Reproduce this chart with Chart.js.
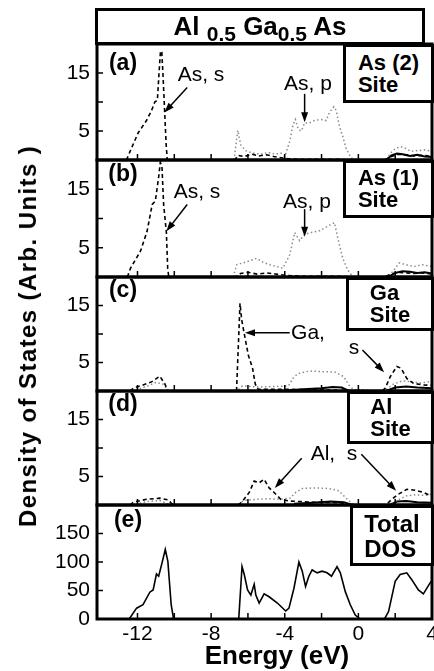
<!DOCTYPE html>
<html>
<head>
<meta charset="utf-8">
<script src="https://cdn.jsdelivr.net/npm/chart.js@4.4.0/dist/chart.umd.min.js"></script>
<style>
  body { margin: 0; background: #fff; }
  #fig { position: relative; width: 434px; height: 671px; overflow: hidden;
         font-family: "Liberation Sans", Arial, sans-serif; color: #000; }
  canvas { position: absolute; left: 0; }
  .t { position: absolute; transform: translate(-50%, -50%); white-space: nowrap; line-height: 1; }
  .lbl { font-size: 21px; }
  .pl { font-size: 23px; font-weight: bold; }
  .box { position: absolute; box-sizing: border-box; border: 3px solid #000; background: #fff;
         display: flex; flex-direction: column; justify-content: center; align-items: center;
         font-weight: bold; font-size: 22px; line-height: 22px; }
  #title { position: absolute; left: 95px; top: 8px; width: 330px; height: 37px; box-sizing: border-box;
           border: 3px solid #000; text-align: center; font-weight: bold; font-size: 26px; line-height: 30px; }
  #title span { font-size: 21px; position: relative; top: 6px; }
</style>
</head>
<body>
<div id="fig">
  <canvas id="pa" width="434" height="124" style="top:40px"></canvas>
  <canvas id="pb" width="434" height="125" style="top:156px"></canvas>
  <canvas id="pc" width="434" height="122" style="top:273px"></canvas>
  <canvas id="pd" width="434" height="122" style="top:387px"></canvas>
  <canvas id="pe" width="434" height="170" style="top:501px"></canvas>

  <div id="title">Al <span>0.5</span> Ga<span>0.5</span> As</div>

  <div class="box" style="left:343px;top:44px;width:91px;height:59px">As (2)<br>Site</div>
  <div class="box" style="left:343px;top:160px;width:91px;height:58px">As (1)<br>Site</div>
  <div class="box" style="left:346px;top:277px;width:88px;height:54px">Ga<br>Site</div>
  <div class="box" style="left:347px;top:391px;width:87px;height:53px">Al<br>Site</div>
  <div class="box" style="left:350px;top:505px;width:84px;height:61px;font-size:24px;line-height:25px">Total<br>DOS</div>

  <div class="t pl" style="left:123px;top:62px">(a)</div>
  <div class="t pl" style="left:123px;top:173px">(b)</div>
  <div class="t pl" style="left:123px;top:289px">(c)</div>
  <div class="t pl" style="left:123px;top:403px">(d)</div>
  <div class="t pl" style="left:128px;top:519px">(e)</div>

  <div class="t lbl" style="left:201px;top:73px">As, s</div>
  <div class="t lbl" style="left:308px;top:82px">As, p</div>
  <div class="t lbl" style="left:197px;top:190px">As, s</div>
  <div class="t lbl" style="left:307px;top:200px">As, p</div>
  <div class="t lbl" style="left:308px;top:331px">Ga,</div>
  <div class="t lbl" style="left:354px;top:346px">s</div>
  <div class="t lbl" style="left:334px;top:452px">Al,&nbsp;&nbsp;s</div>

  <div class="t" style="left:28px;top:336px;transform:translate(-50%,-50%) rotate(-90deg);font-weight:bold;font-size:24px;letter-spacing:1.4px">Density of States (Arb. Units )</div>
  <div class="t" style="left:277px;top:655px;font-weight:bold;font-size:26px">Energy (eV)</div>
</div>

<script>
// energy axis (eV)
const xMin = -14.2, xMax = 4;
const xTickMarks = [-12, -10, -8, -6, -4, -2, 0, 2];

// (a) As(2) site
const sA_E = [-12.6, -12.32, -11.96, -11.51, -11.24, -11.06, -10.92, -10.83, -10.75, -10.68, -10.61, -10.52, -10.44, -10.38,
  -6.7, -6.55, -6.2, -5.8, -5.4, -5.0, -4.6, -4.2, -3.8, -3.0, -2.0, -1.0, -0.4, 1.4, 1.8, 2.2, 2.6, 3.0, 3.5, 4.0];
const sA_V = [0, 2.1, 4.7, 6.8, 8.5, 10, 10.3, 15, 18.8, 18.6, 14.4, 8.0, 2.5, 0,
  0, 0.8, 0.6, 1.0, 0.7, 0.9, 0.6, 0.4, 0.2, 0.1, 0.1, 0.1, 0, 0, 0.6, 1.0, 0.9, 0.7, 0.8, 0.6];
const pA_E = [-6.75, -6.62, -6.55, -6.39, -6.12, -5.76, -5.31, -4.9, -4.5, -4.2, -4.0, -3.73, -3.55, -3.42, -3.27, -3.1,
  -2.92, -2.65, -2.38, -2.02, -1.75, -1.57, -1.33, -1.2, -1.03, -0.85, -0.67, -0.4, -0.2,
  1.5, 1.75, 2.02, 2.31, 2.58, 2.85, 3.21, 3.57, 4.0];
const pA_V = [0, 3.5, 5.1, 2.6, 1.6, 1.2, 1.0, 1.3, 1.0, 1.2, 0.6, 3.2, 6.1, 7.0, 5.3, 5.0,
  6.4, 6.4, 6.8, 7.0, 6.8, 8.2, 9.2, 8.5, 5.8, 4.1, 2.0, 0.4, 0,
  0, 1.2, 2.0, 2.3, 2.0, 1.5, 1.6, 1.75, 1.5];
const dA_E = [1.5, 1.8, 2.1, 2.4, 2.8, 3.2, 3.6, 4.0];
const dA_V = [0, 0.8, 1.1, 1.0, 0.7, 0.9, 0.6, 0.5];

// (b) As(1) site
const sB_E = [-12.55, -12.38, -11.84, -11.48, -11.2, -11.03, -10.85, -10.76, -10.67, -10.58, -10.43, -10.36, -10.3,
  -6.7, -6.4, -6.0, -5.5, -5.0, -4.5, -4.0, -3.0, -2.0, -1.0, -0.4, 1.4, 1.8, 2.2, 2.6, 3.0, 3.5, 4.0];
const sB_V = [0, 1.5, 4.4, 7.8, 12.4, 13.0, 17.1, 19.6, 18.8, 12.4, 7.6, 1.5, 0,
  0, 0.6, 0.8, 0.5, 0.7, 0.5, 0.3, 0.1, 0.1, 0.1, 0, 0, 0.5, 0.8, 0.7, 0.6, 0.7, 0.5];
const pB_E = [-6.8, -6.61, -6.07, -5.53, -5.17, -4.81, -4.45, -4.1, -3.73, -3.46,
  -3.19, -2.92, -2.56, -2.11, -1.66, -1.3, -1.12, -0.85, -0.58, -0.3, 1.5, 1.86, 2.22, 2.58, 3.03, 3.48, 4.0];
const pB_V = [0, 2.1, 2.6, 3.2, 2.5, 2.1, 1.8, 1.5, 3.8, 7.6,
  6.2, 7.3, 7.6, 7.9, 8.7, 9.3, 6.7, 3.2, 1.2, 0, 0, 0.9, 2.4, 2.1, 1.8, 2.1, 1.8];
const dB_E = [1.6, 2.0, 2.4, 2.8, 3.2, 3.6, 4.0];
const dB_V = [0, 0.7, 1.0, 0.9, 0.7, 0.8, 0.6];

// (c) Ga site
const sC_E = [-12.4, -12.23, -11.7, -11.24, -10.79, -10.52, -10.34, -6.62, -6.52, -6.43, -6.34, -6.22, -5.98, -5.75, -5.6, -5.45,
  -4.0, -2.0, -0.5, 1.3, 1.46, 1.73, 2.09, 2.32, 2.63, 2.99, 3.53, 4.0];
const sC_V = [0, 0.5, 1.05, 1.6, 2.6, 1.3, 0, 0, 8, 15.4, 12.5, 10.4, 6.3, 4.0, 1.2, 0.3,
  0.3, 0.2, 0.1, 0, 0.5, 2.5, 4.3, 4.0, 2.2, 1.35, 1.05, 1.0];
const pC_E = [-12.3, -11.5, -11.0, -10.6, -10.3, -6.6, -6.3, -5.5, -4.5, -3.8, -3.5, -3.22, -2.68, -1.96, -1.24, -0.79, -0.52, -0.25,
  1.4, 1.9, 2.4, 2.9, 3.4, 4.0];
const pC_V = [0, 0.8, 1.5, 1.2, 0, 0, 0.9, 0.7, 0.8, 0.9, 2.5, 3.1, 3.5, 3.4, 3.3, 2.5, 1.05, 0.2,
  0, 1.2, 1.8, 1.6, 1.4, 1.7];
const dC_E = [-4, -3, -2, -1.4, -0.9, -0.5, 1.5, 2.0, 2.6, 3.2, 4.0];
const dC_V = [0.1, 0.3, 0.5, 0.7, 0.6, 0, 0, 0.6, 0.8, 0.6, 0.5];

// (d) Al site
const sD_E = [-12.4, -12.23, -11.51, -10.79, -10.34, -10.07, -6.5, -6.29, -5.93, -5.66, -5.39, -5.12, -4.85, -4.58, -4.22, -3.77,
  -2.5, -1.0, -0.4, 1.5, 1.82, 2.18, 2.63, 3.08, 3.53, 4.0];
const sD_V = [0, 0.5, 1.0, 1.2, 0.9, 0, 0, 0.7, 2.2, 4.2, 3.9, 4.5, 3.0, 2.2, 1.0, 0.7,
  0.5, 0.4, 0, 0, 1.0, 1.9, 2.75, 2.6, 2.2, 1.5];
const pD_E = [-12.3, -11.5, -10.8, -10.2, -6.6, -6.2, -5.5, -4.8, -4.2, -3.7, -3.41, -3.05, -2.32, -1.6, -1.06, -0.7, -0.34, -0.1,
  1.6, 2.1, 2.6, 3.1, 3.6, 4.0];
const pD_V = [0, 0.6, 0.8, 0, 0, 0.8, 1.0, 1.1, 1.0, 1.2, 2.2, 2.9, 3.0, 2.9, 2.5, 1.3, 0.3, 0,
  0, 0.8, 1.6, 1.8, 1.7, 1.9];
const dD_E = [-3.5, -2.5, -1.5, -0.8, -0.3, 1.7, 2.1, 2.6, 3.2, 4.0];
const dD_V = [0.2, 0.4, 0.6, 0.5, 0, 0, 0.6, 0.7, 0.5, 0.4];

// (e) total DOS
const tot_E = [-12.45, -12.05, -11.7, -11.33, -11.15, -10.97, -10.85, -10.67, -10.49, -10.35, -10.17, -10.04,
  -6.5, -6.32, -6.2, -6.02, -5.84, -5.66, -5.57, -5.39, -5.12, -4.85, -4.4, -3.95, -3.77, -3.5, -3.23, -3.05,
  -2.87, -2.69, -2.51, -2.24, -1.97, -1.7, -1.46, -1.16, -0.98, -0.71, -0.44, -0.17, 0.1,
  1.42, 1.64, 2.0, 2.27, 2.63, 2.9, 3.26, 3.53, 3.89, 4.0];
const tot_V = [0, 19, 25, 47, 51, 79, 75, 98, 122, 101, 25, 0,
  0, 92, 78, 51, 42, 61, 42, 28, 44, 39, 28, 14, 19, 54, 100, 84,
  57, 75, 86, 81, 84, 81, 75, 92, 81, 48, 25, 7, 0,
  0, 13, 66, 78, 81, 69, 51, 44, 63, 68];

Chart.defaults.font.family = '"Liberation Sans", Arial, sans-serif';
Chart.defaults.font.size = 21;
Chart.defaults.color = '#000';

const pts = (E, V) => E.map((x, i) => ({ x: x, y: V[i] }));
const sLine = (E, V) => ({ data: pts(E, V), borderColor: '#000', borderWidth: 1.6, borderDash: [4, 3] });
const pLine = (E, V) => ({ data: pts(E, V), borderColor: '#8c8c8c', borderWidth: 1.5, borderDash: [1.5, 2.5] });
const dLine = (E, V) => ({ data: pts(E, V), borderColor: '#000', borderWidth: 2 });

// frame, inward ticks and annotation arrows
const framePlugin = {
  id: 'frame',
  afterDatasetsDraw(chart, args, o) {
    const { ctx, chartArea: a, scales: { x, y } } = chart;
    ctx.save();
    ctx.strokeStyle = '#000';
    ctx.fillStyle = '#000';
    ctx.lineWidth = 1.5;
    ctx.beginPath();
    xTickMarks.forEach(v => {
      const px = x.getPixelForValue(v);
      ctx.moveTo(px, a.bottom); ctx.lineTo(px, a.bottom - 6);
    });
    o.yTicks.forEach(v => {
      const py = y.getPixelForValue(v);
      ctx.moveTo(a.left, py); ctx.lineTo(a.left + 6, py);
    });
    ctx.stroke();
    (o.arrows || []).forEach(([x1, y1, x2, y2]) => {
      const X1 = x.getPixelForValue(x1), Y1 = y.getPixelForValue(y1);
      const X2 = x.getPixelForValue(x2), Y2 = y.getPixelForValue(y2);
      const ang = Math.atan2(Y2 - Y1, X2 - X1);
      const c = Math.cos(ang), s = Math.sin(ang);
      ctx.lineWidth = 1.5;
      ctx.beginPath();
      ctx.moveTo(X1, Y1); ctx.lineTo(X2 - 6 * c, Y2 - 6 * s);
      ctx.stroke();
      ctx.beginPath();
      ctx.moveTo(X2, Y2);
      ctx.lineTo(X2 - 10 * c + 3.5 * s, Y2 - 10 * s - 3.5 * c);
      ctx.lineTo(X2 - 10 * c - 3.5 * s, Y2 - 10 * s + 3.5 * c);
      ctx.closePath();
      ctx.fill();
    });
    ctx.lineWidth = 3;
    ctx.strokeRect(a.left, a.top, a.right - a.left, a.bottom - a.top);
    ctx.restore();
  }
};

function panel(id, datasets, yMax, yStep, yShown, yMarks, arrows, last) {
  return new Chart(document.getElementById(id), {
    type: 'line',
    data: { datasets: datasets },
    plugins: [framePlugin],
    options: {
      responsive: false,
      animation: false,
      layout: { padding: { top: 4, bottom: last ? 0 : 4, left: 0, right: 2 } },
      elements: { point: { radius: 0 }, line: { tension: 0 } },
      plugins: {
        legend: { display: false },
        tooltip: { enabled: false },
        frame: { yTicks: yMarks, arrows: arrows }
      },
      scales: {
        x: {
          type: 'linear', min: xMin, max: xMax, display: last,
          grid: { display: false, drawTicks: false }, border: { display: false },
          ticks: { stepSize: 2, includeBounds: false, autoSkip: false, maxRotation: 0, padding: 3,
                   callback: v => (v % 4 === 0 ? String(v) : '') },
          afterFit: s => { if (last) { s.height = 52; } s.paddingLeft = 0; s.paddingRight = 0; }
        },
        y: {
          min: 0, max: yMax,
          grid: { display: false, drawTicks: false }, border: { display: false },
          ticks: { stepSize: yStep, padding: 7, autoSkip: false,
                   callback: v => (yShown.includes(v) ? String(v) : '') },
          afterFit: s => { s.width = 97; s.paddingTop = 0; s.paddingBottom = 0; }
        }
      }
    }
  });
}

panel('pa', [sLine(sA_E, sA_V), pLine(pA_E, pA_V), dLine(dA_E, dA_V)], 20, 5, [5, 15], [5, 10, 15],
  [[-9.3, 12.5, -10.54, 8.2], [-2.92, 11.4, -2.92, 6.5]], false);
panel('pb', [sLine(sB_E, sB_V), pLine(pB_E, pB_V), dLine(dB_E, dB_V)], 20, 5, [5, 15], [5, 10, 15],
  [[-9.3, 12.4, -10.43, 7.8], [-2.92, 11.6, -2.92, 6.9]], false);
panel('pc', [sLine(sC_E, sC_V), pLine(pC_E, pC_V), dLine(dC_E, dC_V)], 20, 5, [5, 15], [5, 10, 15],
  [[-3.73, 10.2, -6.16, 10.2], [0.22, 7.2, 1.4, 3.3]], false);
panel('pd', [sLine(sD_E, sD_V), pLine(pD_E, pD_V), dLine(dD_E, dD_V)], 20, 5, [5, 15], [5, 10, 15],
  [[-3.08, 8.2, -4.54, 3.0], [0.16, 8.9, 2.05, 2.5]], false);
panel('pe', [{ data: pts(tot_E, tot_V), borderColor: '#000', borderWidth: 1.6 }], 200, 50, [0, 50, 100, 150], [50, 100, 150],
  [], true);
</script>
</body>
</html>
